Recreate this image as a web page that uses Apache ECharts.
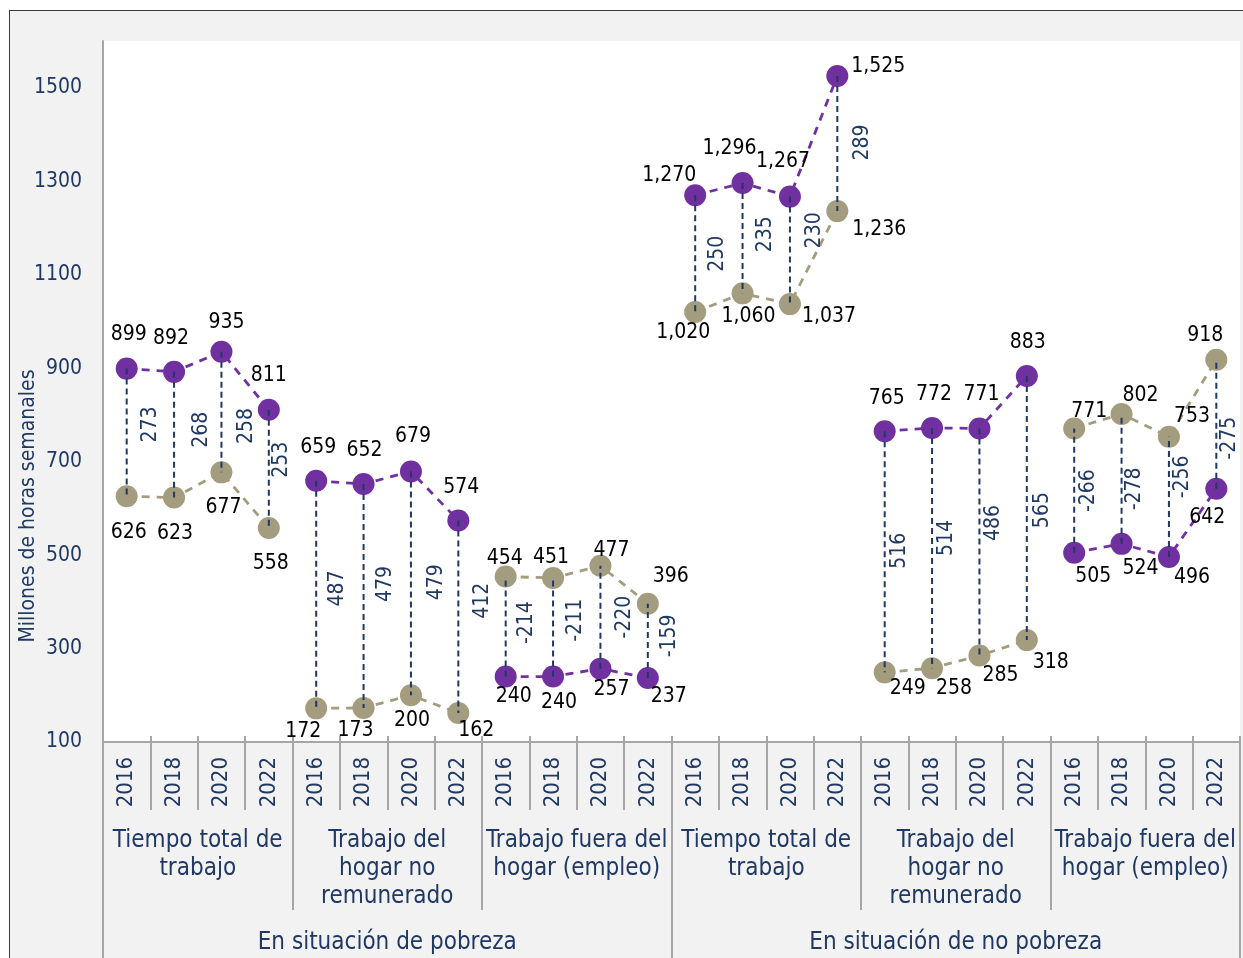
<!DOCTYPE html>
<html><head><meta charset="utf-8">
<script src="https://cdn.jsdelivr.net/npm/echarts@6/dist/echarts.min.js"></script>
<style>
html,body{margin:0;padding:0;background:#fff;overflow:hidden;}
#frame{position:absolute;left:9px;top:10px;width:1240px;height:955px;background:#f2f2f2;border-left:1.5px solid #3a3a3a;border-top:1.5px solid #3a3a3a;}
#chart{position:absolute;left:0;top:0;width:1243px;height:958px;}
</style></head><body>
<div id="frame"></div><div id="chart"></div>
<script>
// ---- data ----
const years = ['2016','2018','2020','2022'];
const subgroups = ['Tiempo total de\ntrabajo','Trabajo del\nhogar no\nremunerado','Trabajo fuera del\nhogar (empleo)',
                   'Tiempo total de\ntrabajo','Trabajo del\nhogar no\nremunerado','Trabajo fuera del\nhogar (empleo)'];
const groups = ['En situación de pobreza','En situación de no pobreza'];
const purpleValues = [899,892,935,811, 659,652,679,574, 240,240,257,237, 1270,1296,1267,1525, 765,772,771,883, 505,524,496,642];
const tanValues = [626,623,677,558, 172,173,200,162, 454,451,477,396, 1020,1060,1037,1236, 249,258,285,318, 771,802,753,918];
const diffLabels = [273,268,258,253, 487,479,479,412, -214,-211,-220,-159, 250,235,230,289, 516,514,486,565, -266,-278,-256,-275];
const yAxisName = 'Millones de horas semanales';

// ---- label placement (style) ----
const purpleLabelOffsets = [[2,-34],[-3,-33],[5,-29],[0,-34], [2,-33],[1,-33],[2,-35],[3,-33],
  [8,20],[6,26],[11,21],[21,19], [-26,-20],[-13,-35],[-7,-35],[41,-10],
  [2,-33],[2,-33],[2,-34],[1,-34], [19,24],[19,25],[23,21],[-9,29]];
const tanLabelOffsets = [[2,36],[1,36],[2,35],[2,36], [-13,23],[-8,23],[1,25],[18,18],
  [-1,-18],[-2,-20],[11,-15],[23,-27], [-12,20],[6,23],[39,12],[42,18],
  [23,16],[22,20],[21,20],[24,22], [15,-17],[19,-18],[23,-20],[-11,-24]];
const diffLabelOffsets = [[24,-8],[27,-5],[25,14],[13,-9], [21,-6],[22,-12],[26,-1],[24,-16],
  [21,-4],[22,-7],[24,0],[22,-5], [22,0],[23,-4],[25,-20],[25,-1],
  [15,-1],[14,-10],[14,-19],[16,2], [14,0],[13,10],[14,-20],[13,14]];

const FONT = '"DejaVu Sans Condensed", "DejaVu Sans", sans-serif';
const NAVY = '#1f3864';
const PURPLE = '#7030a0';
const TAN = '#a39c7e';
const GRAY = '#a6a6a6';

const categories = [];
subgroups.forEach(() => years.forEach(y => categories.push(y)));
const fmt = v => Number(v).toLocaleString('en-US');

const series = [];
for (let g = 0; g < subgroups.length; g++) {
  [[purpleValues, purpleLabelOffsets, PURPLE], [tanValues, tanLabelOffsets, TAN]].forEach(([vals, offs, col]) => {
    series.push({
      type: 'line', xAxisIndex: 0, yAxisIndex: 0, z: 3,
      data: categories.map((c, i) => Math.floor(i / 4) === g ? { value: vals[i], label: { offset: offs[i] } } : '-'),
      connectNulls: false,
      symbol: 'circle', symbolSize: 22,
      itemStyle: { color: col },
      lineStyle: { color: col, width: 2.8, type: [8, 7] },
      label: { show: true, position: 'inside', color: '#000', fontSize: 21, fontFamily: FONT, formatter: p => fmt(p.value) },
      emphasis: { disabled: true },
      animation: false
    });
  });
}
series.push({
  type: 'custom', xAxisIndex: 0, yAxisIndex: 0, z: 6,
  data: purpleValues.map((v, i) => [i, v, tanValues[i], diffLabels[i]]),
  renderItem: function (params, api) {
    const i = api.value(0);
    const a = api.coord([i, api.value(1)]);
    const b = api.coord([i, api.value(2)]);
    const o = diffLabelOffsets[i];
    return { type: 'group', children: [
      { type: 'line', shape: { x1: a[0], y1: a[1], x2: b[0], y2: b[1] },
        style: { stroke: NAVY, lineWidth: 2, lineDash: [6, 4] } },
      { type: 'text', x: a[0] + o[0], y: (a[1] + b[1]) / 2 + o[1], rotation: Math.PI / 2,
        style: { text: String(api.value(3)), fill: NAVY, fontSize: 21, fontFamily: FONT, align: 'center', verticalAlign: 'middle' } }
    ]};
  },
  animation: false
});

const chart = echarts.init(document.getElementById('chart'), null, { renderer: 'canvas' });
chart.setOption({
  backgroundColor: 'transparent',
  animation: false,
  grid: { left: 103, right: 3, top: 41, bottom: 216, show: true, backgroundColor: '#ffffff', borderWidth: 0 },
  xAxis: [
    { type: 'category', data: categories, position: 'bottom', boundaryGap: true,
      axisLine: { show: true, lineStyle: { color: GRAY, width: 2 } },
      axisTick: { show: true, interval: 0, length: 68, lineStyle: { color: GRAY, width: 2 } },
      axisLabel: { interval: 0, rotate: 90, margin: 15, color: NAVY, fontSize: 22, fontFamily: FONT } },
    { type: 'category', data: subgroups, position: 'bottom', boundaryGap: true,
      axisLine: { show: false },
      axisTick: { show: true, interval: 0, length: 168, lineStyle: { color: GRAY, width: 2 } },
      axisLabel: { interval: 0, margin: 85, color: NAVY, fontSize: 24, lineHeight: 28, fontFamily: FONT } },
    { type: 'category', data: groups, position: 'bottom', boundaryGap: true,
      axisLine: { show: false },
      axisTick: { show: true, interval: 0, length: 220, lineStyle: { color: GRAY, width: 2 } },
      axisLabel: { interval: 0, margin: 189, color: NAVY, fontSize: 24, fontFamily: FONT } },
    { type: 'category', data: categories, position: 'bottom', boundaryGap: true,
      axisLine: { show: false },
      axisTick: { show: true, inside: true, interval: 0, length: 6, lineStyle: { color: GRAY, width: 2 } },
      axisLabel: { show: false } }
  ],
  yAxis: {
    type: 'value', min: 100, max: 1600, interval: 200,
    axisLine: { show: true, lineStyle: { color: GRAY, width: 2 } },
    axisTick: { show: false },
    splitLine: { show: false },
    axisLabel: { margin: 21, color: NAVY, fontSize: 21, fontFamily: FONT, formatter: v => v >= 1600 ? '' : String(v) }
  },
  graphic: [
    { type: 'text', x: 29, y: 506, rotation: Math.PI / 2,
      style: { text: yAxisName, fill: NAVY, fontSize: 21, fontFamily: FONT, align: 'center', verticalAlign: 'middle' } }
  ],
  series: series
});
</script>
</body></html>
